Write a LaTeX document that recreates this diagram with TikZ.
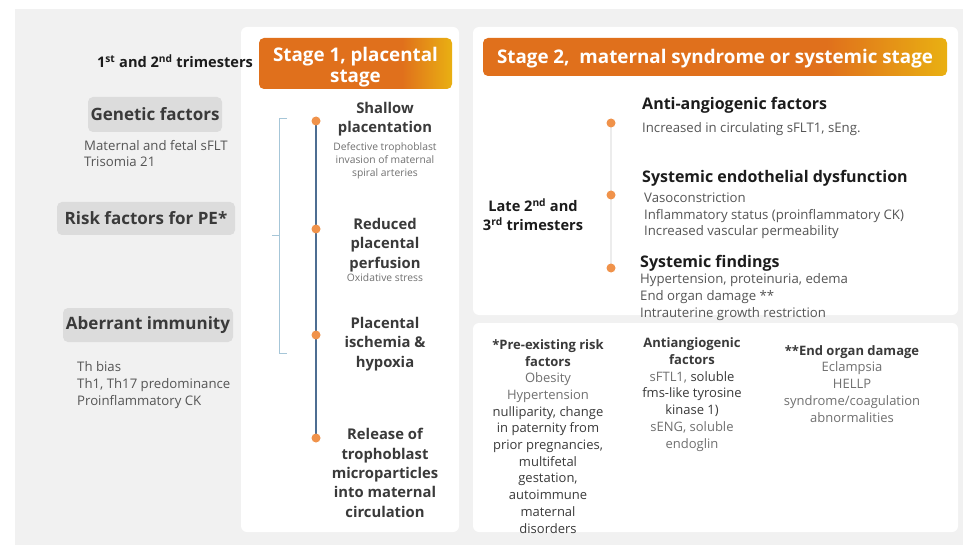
\documentclass[tikz,border=0pt]{standalone}
\usepackage{fontspec}
\setmainfont{Open Sans}
\usetikzlibrary{positioning}

\definecolor{pagegray}{HTML}{F1F1F1}
\definecolor{tagfill}{HTML}{DCDCDC}
\definecolor{stageorange}{HTML}{E0701C}
\definecolor{stageyellow}{HTML}{E9B012}
\definecolor{dotorange}{HTML}{F0924A}
\definecolor{spine}{HTML}{4E6E92}
\definecolor{spinelight}{HTML}{ECECEC}
\definecolor{bracketblue}{HTML}{A6C6D8}
\definecolor{inkdark}{HTML}{1C1C1C}
\definecolor{inkmid}{HTML}{3A3A3A}
\definecolor{inkgray}{HTML}{555555}
\definecolor{inklight}{HTML}{707070}

\pgfdeclarehorizontalshading{stagefade}{100bp}{color(0bp)=(stageorange); color(62bp)=(stageorange); color(75bp)=(stageyellow); color(100bp)=(stageyellow)}

\newcommand{\txtsize}[2]{\fontsize{#1}{#2}\selectfont}

\begin{document}
\begin{tikzpicture}[x=1pt,y=-1pt,
  panel/.style={fill=white, rounded corners=6pt},
  stagebar/.style={shading=stagefade, rounded corners=5pt, inner sep=0pt},
  stagetitle/.style={text=white, align=center, inner sep=0pt, anchor=base, font=\bfseries\txtsize{18.8}{21}},
  tag/.style={fill=tagfill, rounded corners=5pt, text=inkmid, inner sep=0pt, font=\bfseries\txtsize{17}{19}},
  period/.style={text=inkdark, align=center, inner sep=0pt, anchor=base, font=\bfseries\txtsize{14.6}{19}},
  body/.style={text=inkgray, align=left, inner sep=0pt, anchor=base west, font=\txtsize{13.2}{16.8}},
  event/.style={text=inkmid, align=center, inner sep=0pt, anchor=base, font=\bfseries\txtsize{14.8}{19.3}},
  note/.style={text=inklight, align=center, inner sep=0pt, anchor=base, font=\txtsize{10.3}{13}},
  finding/.style={text=inkdark, inner sep=0pt, anchor=base west, font=\bfseries\txtsize{16}{19}},
  legend/.style={text=inkmid, align=center, inner sep=0pt, anchor=base, font=\txtsize{13}{16.7}},
  dot/.style={circle, fill=dotorange, minimum size=9pt, inner sep=0pt}]

\fill[white] (0,0) rectangle (968,545);
\useasboundingbox (0,0) rectangle (968,545);
\fill[pagegray] (15,9) rectangle (963,545);

% panels
\fill[panel] (241,27) rectangle (459,532);
\fill[panel] (473,27) rectangle (958,315);
\fill[panel] (473,323) rectangle (958,532);

\node[stagebar, minimum width=193pt, minimum height=51pt] (stageone) at (355.5,63.5) {};
\node[stagetitle] (stageonetxt) at (355.5,83) {Stage 1, placental\\stage};
\node[stagebar, minimum width=464pt, minimum height=38pt] (stagetwo) at (715,57) {};
\node[stagetitle] (stagetwotxt) at (715,64) {Stage 2,\ \ maternal syndrome or systemic stage};

% left column
\node[period] (early) at (175,68) {1\textsuperscript{st} and 2\textsuperscript{nd} trimesters};

\node[tag, minimum width=134pt, minimum height=35pt] (genetic) at (155,114.5) {Genetic factors};
\node[body] (genetictxt) at (84,167) {Maternal and fetal sFLT\\Trisomia 21};

\node[tag, minimum width=178pt, minimum height=33pt] (risk) at (146,218.5) {Risk factors for PE*};

\node[tag, minimum width=170pt, minimum height=34pt] (immunity) at (148,325) {Aberrant immunity};
\node[body] (immunitytxt) at (77,405) {Th bias\\Th1, Th17 predominance\\Proinflammatory CK};

\draw[bracketblue, line width=0.8pt] (287,118) -- (279,118) -- (279,353) -- (287,353);
\draw[bracketblue, line width=0.8pt] (279,235) -- (272,235);

% stage 1 timeline
\draw[spine, line width=2pt] (316,121) node[dot] (p1) {}
  -- (316,229) node[dot] (p2) {}
  -- (316,335) node[dot] (p3) {}
  -- (316,438) node[dot] (p4) {};

\node[event] (shallow) at (385,133) {Shallow\\placentation};
\node[note] (shallowtxt) at (385,177) {Defective trophoblast\\invasion of maternal\\spiral arteries};
\node[event] (perfusion) at (385,268) {Reduced\\placental\\perfusion};
\node[note] (perfusiontxt) at (385,281) {Oxidative stress};
\node[event] (ischemia) at (385,367) {Placental\\ischemia \&\\hypoxia};
\node[event] (release) at (385,517) {Release of\\trophoblast\\microparticles\\into maternal\\circulation};

% stage 2 timeline
\node[period] (late) at (533,231) {Late 2\textsuperscript{nd} and\\3\textsuperscript{rd} trimesters};

\draw[spinelight, line width=1.2pt] (611,123) node[dot] (q1) {}
  -- (611,195) node[dot] (q2) {}
  -- (611,268) node[dot] (q3) {};

\node[finding] (antiang) at (642,110) {Anti-angiogenic factors};
\node[body] (antiangtxt) at (642,133) {Increased in circulating sFLT1, sEng.};
\node[finding] (endo) at (642,183) {Systemic endothelial dysfunction};
\node[body] (endotxt) at (644,236) {Vasoconstriction\\Inflammatory status (proinflammatory CK)\\Increased vascular permeability};
\node[finding] (systemic) at (640,267) {Systemic findings};
\node[body] (systemictxt) at (640,317) {Hypertension, proteinuria, edema\\End organ damage **\\Intrauterine growth restriction};

% footnotes
\node[legend] (preexist) at (548,533) {\textbf{*Pre-existing risk}\\\textbf{factors}\\
  \textcolor{inklight}{Obesity}\\\textcolor{inklight}{Hypertension}\\nulliparity, change\\in paternity from\\
  prior pregnancies,\\multifetal\\gestation,\\autoimmune\\maternal\\disorders};
\node[legend] (antiangnote) at (692,448) {\textbf{Antiangiogenic}\\\textbf{factors}\\
  \textcolor{inklight}{sFTL1,} soluble\\fms-like tyrosine\\kinase 1)\\\textcolor{inklight}{sENG, soluble}\\\textcolor{inklight}{endoglin}};
\node[legend] (organ) at (852,422) {\textbf{**End organ damage}\\
  \textcolor{inklight}{Eclampsia}\\\textcolor{inklight}{HELLP}\\\textcolor{inklight}{syndrome/coagulation}\\\textcolor{inklight}{abnormalities}};

\end{tikzpicture}
\end{document}
